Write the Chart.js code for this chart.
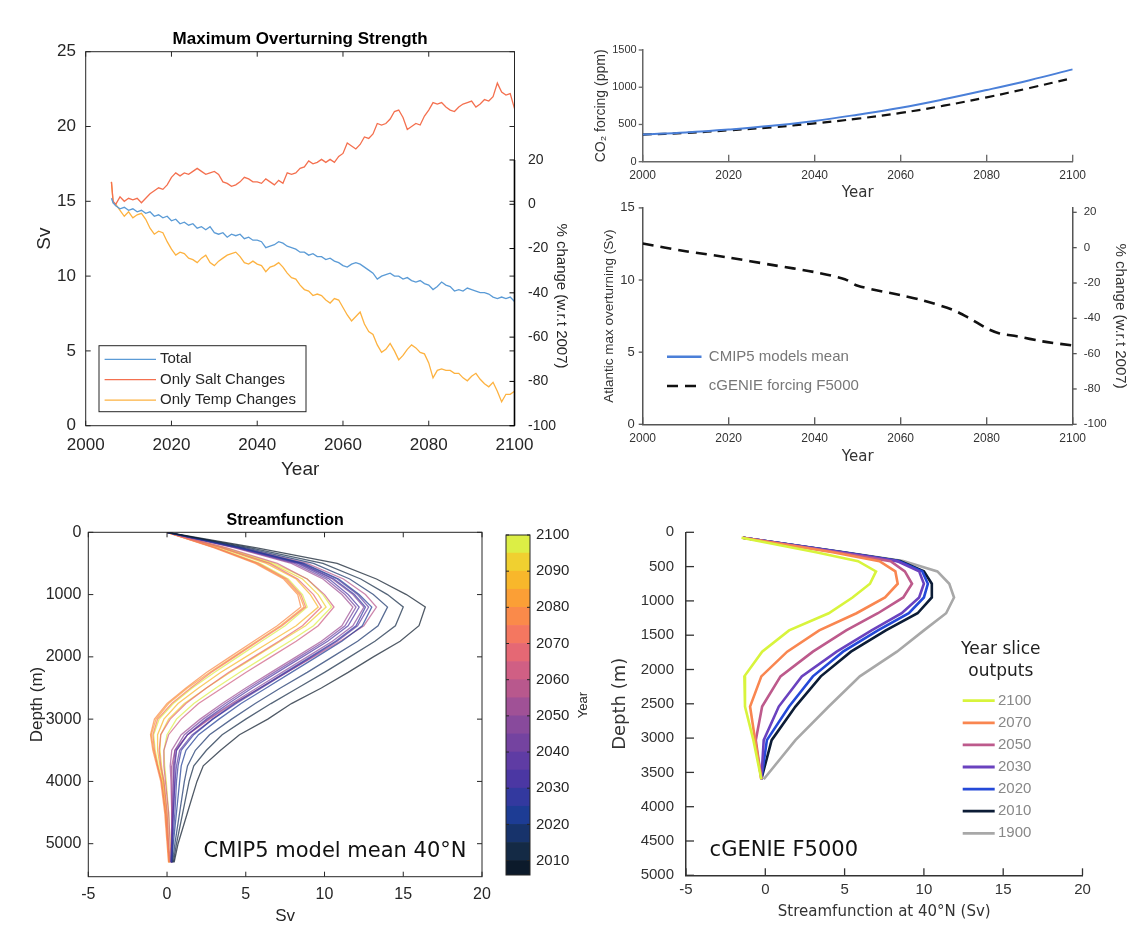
<!DOCTYPE html>
<html>
<head>
<meta charset="utf-8">
<script src="https://cdn.jsdelivr.net/npm/chart.js@4.4.1/dist/chart.umd.min.js"></script>
<style>
  body { margin: 0; background: #fff; width: 1129px; height: 931px; position: relative; overflow: hidden; }
  canvas { position: absolute; }
</style>
</head>
<body>
<canvas id="overturning" width="580" height="500" style="left:0;top:0"></canvas>
<canvas id="co2" width="549" height="180" style="left:580px;top:30px"></canvas>
<canvas id="atlantic" width="549" height="280" style="left:580px;top:190px"></canvas>
<canvas id="stream" width="500" height="431" style="left:0;top:500px"></canvas>
<canvas id="colorbar" width="110" height="370" style="left:490px;top:520px"></canvas>
<canvas id="genie" width="529" height="421" style="left:600px;top:510px"></canvas>
<script>
// ---- top left: maximum overturning strength (Sv)
const overturnYears = [
  2006, 2006.4, 2007, 2008, 2009, 2010, 2011, 2012, 2013, 2014,
  2015, 2016, 2017, 2018, 2019, 2020, 2021, 2022, 2023, 2024,
  2025, 2026, 2027, 2028, 2029, 2030, 2031, 2032, 2033, 2034,
  2035, 2036, 2037, 2038, 2039, 2040, 2041, 2042, 2043, 2044,
  2045, 2046, 2047, 2048, 2049, 2050, 2051, 2052, 2053, 2054,
  2055, 2056, 2057, 2058, 2059, 2060, 2061, 2062, 2063, 2064,
  2065, 2066, 2067, 2068, 2069, 2070, 2071, 2072, 2073, 2074,
  2075, 2076, 2077, 2078, 2079, 2080, 2081, 2082, 2083, 2084,
  2085, 2086, 2087, 2088, 2089, 2090, 2091, 2092, 2093, 2094,
  2095, 2096, 2097, 2098, 2099, 2100
];
const totalSv = [
  15.2, 14.9, 14.7, 14.5, 14.6, 14.4, 14.5, 14.3, 14.4, 14.2,
  14.3, 14.0, 14.1, 13.9, 14.0, 13.7, 13.8, 13.5, 13.6, 13.4,
  13.5, 13.2, 13.3, 13.1, 13.3, 12.9, 12.8, 12.9, 12.6, 12.8,
  12.7, 12.8, 12.5, 12.6, 12.4, 12.4, 12.3, 11.9, 12.0, 12.1,
  12.3, 12.2, 12.0, 11.9, 11.8, 11.6, 11.6, 11.4, 11.5, 11.3,
  11.3, 11.1, 11.2, 11.0, 10.9, 10.7, 10.6, 10.8, 10.9, 10.8,
  10.6, 10.4, 10.2, 9.8, 10.0, 10.1, 10.2, 10.0, 10.0, 9.8,
  9.9, 9.7, 9.6, 9.7, 9.5, 9.4, 9.1, 9.3, 9.6, 9.4,
  9.3, 9.0, 9.1, 9.0, 9.2, 9.1, 9.0, 8.9, 8.9, 8.8,
  8.6, 8.5, 8.6, 8.5, 8.6, 8.3
];
const saltSv = [
  16.3, 15.0, 14.8, 15.3, 15.0, 15.2, 15.1, 15.2, 14.9, 15.2,
  15.5, 15.7, 15.9, 15.8, 16.1, 16.6, 16.9, 16.7, 16.9, 16.8,
  17.0, 17.2, 17.0, 16.8, 16.9, 17.0, 16.8, 16.3, 16.2, 16.0,
  16.1, 16.3, 16.6, 16.5, 16.3, 16.3, 16.2, 16.5, 16.3, 16.1,
  16.4, 16.2, 16.9, 16.8, 16.9, 17.2, 17.3, 17.7, 17.5, 17.6,
  17.8, 17.6, 17.8, 17.6, 18.0, 18.2, 18.9, 18.7, 18.5, 18.8,
  19.3, 19.2, 19.5, 20.2, 20.1, 20.2, 20.5, 21.0, 21.1, 20.6,
  19.8, 20.0, 20.2, 20.1, 20.7, 21.1, 21.6, 21.5, 21.6, 21.3,
  21.1, 21.0, 21.3, 21.5, 21.6, 21.7, 21.3, 21.5, 21.8, 21.7,
  22.0, 22.9, 22.3, 22.1, 22.2, 21.2
];
const tempSv = [
  16.3, 14.9, 14.8, 14.4, 14.0, 14.3, 13.9, 14.1, 14.2, 13.8,
  13.2, 12.8, 13.0, 12.9, 12.3, 11.8, 11.4, 11.6, 11.5, 11.2,
  11.1, 10.9, 11.2, 11.4, 10.9, 10.7, 11.0, 11.2, 11.4, 11.5,
  11.6, 11.3, 10.9, 10.8, 11.0, 10.8, 10.7, 10.3, 10.6, 10.7,
  10.9, 10.6, 10.2, 9.9, 9.8, 9.4, 9.1, 9.0, 8.7, 8.8,
  8.7, 8.4, 8.2, 8.5, 8.4, 7.9, 7.4, 7.0, 7.3, 7.6,
  6.8, 6.3, 6.1, 5.4, 4.9, 5.1, 5.5, 5.0, 4.4, 4.7,
  5.1, 5.4, 5.2, 4.9, 4.8, 4.2, 3.2, 3.7, 3.8, 3.7,
  3.7, 3.5, 3.5, 3.2, 3.0, 3.3, 3.5, 3.1, 2.8, 2.6,
  2.9, 2.3, 1.6, 2.1, 2.1, 2.3
];

// ---- top right: CO2 forcing (ppm)
const co2Years = [2000, 2010, 2020, 2030, 2040, 2050, 2060, 2070, 2080, 2090, 2100];
const co2Cmip5 = [364, 392, 432, 482, 548, 632, 725, 838, 963, 1095, 1240];
const co2Genie = [364, 386, 421, 462, 515, 578, 655, 752, 864, 990, 1124];

// ---- middle right: Atlantic max overturning (Sv), cGENIE F5000
const amocYears = [2000, 2010, 2020, 2030, 2040, 2047, 2050, 2060, 2065, 2072, 2076, 2080, 2083, 2087, 2093, 2100];
const amocGenie = [12.53, 12.0, 11.56, 11.05, 10.55, 10.06, 9.6, 8.95, 8.6, 7.95, 7.35, 6.65, 6.3, 6.1, 5.75, 5.46];

// ---- bottom left: CMIP5 streamfunction profiles at 40N
const streamDepth = [0, 250, 500, 750, 1000, 1200, 1500, 1750, 2000, 2250, 2500, 2750, 3000, 3250, 3500, 3750, 4000, 4500, 5000, 5300];
const streamDepthTicks = [0, 1000, 2000, 3000, 4000, 5000];
const streamYears = [2006, 2010, 2015, 2020, 2025, 2030, 2035, 2040, 2045, 2050, 2055, 2060, 2065, 2070, 2075, 2080, 2085, 2090, 2095, 2100];
const streamSv = [
  [0, 5.7, 10.8, 13.3, 15.2, 16.4, 16.0, 14.8, 13.1, 11.5, 9.8, 7.9, 6.4, 4.6, 3.4, 2.3, 1.9, 1.3, 0.7, 0.45],
  [0, 5.3, 9.9, 12.3, 14.0, 15.0, 14.5, 13.2, 11.6, 10.0, 8.3, 6.6, 5.0, 3.5, 2.5, 1.7, 1.4, 1.0, 0.6, 0.4],
  [0, 5.0, 9.3, 11.6, 13.1, 14.0, 13.4, 12.1, 10.5, 8.9, 7.2, 5.6, 4.1, 2.7, 1.8, 1.3, 1.1, 0.8, 0.5, 0.35],
  [0, 4.7, 8.7, 10.9, 12.2, 13.0, 12.4, 11.1, 9.5, 7.9, 6.3, 4.7, 3.3, 2.0, 1.2, 0.9, 0.8, 0.6, 0.4, 0.3],
  [0, 4.6, 8.5, 10.6, 11.9, 12.6, 12.0, 10.7, 9.1, 7.5, 5.9, 4.3, 2.9, 1.7, 0.9, 0.7, 0.6, 0.5, 0.35, 0.3],
  [0, 4.5, 8.3, 10.3, 11.5, 12.2, 11.5, 10.2, 8.6, 7.0, 5.4, 3.9, 2.5, 1.3, 0.6, 0.5, 0.5, 0.4, 0.3, 0.25],
  [0, 4.7, 8.6, 10.8, 12.1, 12.8, 12.1, 10.8, 9.2, 7.6, 6.0, 4.4, 2.9, 1.6, 0.8, 0.6, 0.5, 0.4, 0.3, 0.25],
  [0, 4.4, 8.1, 10.1, 11.3, 12.0, 11.3, 10.0, 8.4, 6.8, 5.2, 3.7, 2.3, 1.1, 0.5, 0.4, 0.4, 0.35, 0.3, 0.25],
  [0, 4.6, 8.4, 10.5, 11.8, 12.5, 11.8, 10.5, 8.9, 7.3, 5.7, 4.1, 2.6, 1.3, 0.6, 0.45, 0.4, 0.35, 0.3, 0.3],
  [0, 4.3, 7.9, 9.9, 11.1, 11.8, 11.1, 9.8, 8.2, 6.6, 5.0, 3.5, 2.1, 0.9, 0.3, 0.2, 0.25, 0.3, 0.3, 0.3],
  [0, 4.8, 8.9, 11.2, 12.6, 13.3, 12.5, 11.0, 9.3, 7.6, 5.9, 4.2, 2.7, 1.3, 0.5, 0.3, 0.3, 0.3, 0.3, 0.3],
  [0, 3.8, 7.0, 8.9, 10.0, 10.6, 9.6, 8.2, 6.6, 5.0, 3.5, 2.0, 0.9, 0.1, -0.2, -0.2, -0.1, 0.1, 0.2, 0.3],
  [0, 3.5, 6.5, 8.3, 9.3, 9.8, 8.6, 7.1, 5.5, 3.9, 2.5, 1.2, 0.2, -0.4, -0.5, -0.4, -0.2, 0.0, 0.1, 0.2],
  [0, 3.1, 5.8, 7.6, 8.5, 8.8, 7.3, 5.8, 4.3, 2.8, 1.5, 0.3, -0.6, -0.9, -0.8, -0.6, -0.35, -0.1, 0.05, 0.15],
  [0, 3.0, 5.6, 7.4, 8.3, 8.5, 7.0, 5.5, 4.0, 2.5, 1.2, 0.0, -0.8, -1.05, -0.9, -0.65, -0.4, -0.15, 0.0, 0.1],
  [0, 3.1, 5.7, 7.5, 8.4, 8.7, 7.2, 5.7, 4.2, 2.7, 1.3, 0.1, -0.7, -1.0, -0.85, -0.6, -0.35, -0.1, 0.05, 0.1],
  [0, 3.4, 6.3, 8.2, 9.1, 9.6, 8.2, 6.6, 5.0, 3.4, 2.0, 0.7, -0.2, -0.6, -0.6, -0.45, -0.25, -0.05, 0.05, 0.15],
  [0, 3.6, 6.6, 8.6, 9.6, 10.1, 8.8, 7.2, 5.6, 4.0, 2.5, 1.1, 0.1, -0.4, -0.45, -0.35, -0.2, 0.0, 0.1, 0.2],
  [0, 3.2, 5.9, 7.7, 8.6, 8.9, 7.5, 6.0, 4.5, 3.0, 1.6, 0.4, -0.5, -0.85, -0.75, -0.55, -0.3, -0.1, 0.05, 0.15],
  [0, 3.7, 6.8, 8.9, 9.9, 10.45, 9.3, 7.8, 6.2, 4.6, 3.1, 1.7, 0.6, 0.0, -0.2, -0.15, -0.05, 0.1, 0.2, 0.3]
];
// colorbar bands (year edges) and their colours
const barEdges = [2006, 2010, 2015, 2020, 2025, 2030, 2035, 2040, 2045, 2050, 2055, 2060, 2065, 2070, 2075, 2080, 2085, 2090, 2095, 2100];
const barColors = ['#0c1a2b', '#142a45', '#17336b', '#1d3c94', '#33399f', '#4b37a3', '#5f3ca4', '#7443a0', '#884a9c', '#a05196',
                   '#b8588d', '#d05f84', '#e56874', '#f47760', '#fa8a4a', '#fb9f36', '#f8b72b', '#f0d030', '#dcee45'];

// ---- bottom right: cGENIE F5000 year slices
const genieDepth = [80, 290, 420, 570, 750, 950, 1180, 1430, 1740, 2100, 2540, 3030, 3600];
const genieYears = ['2100', '2070', '2050', '2030', '2020', '2010', '1900'];
const genieSv = [
  [-1.5, 3.2, 5.85, 6.98, 6.6, 5.5, 4.0, 1.5, -0.2, -1.32, -1.28, -0.75, -0.25],
  [-1.45, 4.25, 7.2, 8.2, 8.35, 7.55, 5.75, 3.4, 1.38, -0.25, -0.96, -0.64, -0.25],
  [-1.4, 4.5, 7.9, 8.8, 9.25, 8.7, 7.1, 5.1, 3.0, 0.96, -0.2, -0.6, -0.25],
  [-1.4, 4.8, 8.3, 9.7, 10.0, 9.7, 8.6, 6.7, 4.5, 2.3, 0.85, -0.1, -0.25],
  [-1.4, 4.85, 8.4, 9.9, 10.25, 10.0, 9.05, 7.1, 4.9, 3.0, 1.5, 0.1, -0.25],
  [-1.4, 4.9, 8.5, 10.0, 10.5, 10.5, 9.6, 7.6, 5.4, 3.5, 1.9, 0.4, -0.25],
  [-1.4, 5.0, 8.7, 10.85, 11.6, 11.9, 11.4, 10.0, 8.3, 5.96, 4.0, 1.9, -0.1]
];
const genieColors = ['#d8f43c', '#f98650', '#bd5a8c', '#6a42bf', '#2449d8', '#0c1c36', '#a8a8a8'];

// ---------------------------------------------------------------
const pairs = (xs, ys) => xs.map((x, i) => ({ x: x, y: ys[i] }));
const plain = v => String(v);
const fixW = w => s => { s.width = w; };
const fixH = h => s => { s.height = h; };

function rgba(hex, a) {
  const n = parseInt(hex.slice(1), 16);
  return `rgba(${n >> 16},${(n >> 8) & 255},${n & 255},${a})`;
}
function yearColor(year) {
  for (let i = 0; i < barColors.length; i++) {
    if (year < barEdges[i + 1]) return barColors[i];
  }
  return barColors[barColors.length - 1];
}

Chart.defaults.font.family = '"Liberation Sans", Arial, sans-serif';
Chart.defaults.color = '#262626';
Chart.defaults.animation = false;
Chart.defaults.responsive = false;
Chart.defaults.plugins.legend.display = false;
Chart.defaults.plugins.tooltip.enabled = false;
Chart.defaults.elements.point.radius = 0;

// tick marks drawn inside the frame (matlab style), optional box and axis segments
const frameTicks = {
  id: 'frameTicks',
  afterDatasetsDraw(chart, args, o) {
    const { ctx, chartArea: a } = chart;
    ctx.save();
    if (o.box) {
      ctx.strokeStyle = o.box;
      ctx.lineWidth = 1;
      ctx.strokeRect(a.left, a.top, a.right - a.left, a.bottom - a.top);
    }
    (o.marks || []).forEach(m => {
      const s = chart.scales[m.scale];
      ctx.strokeStyle = m.color;
      ctx.lineWidth = m.width || 1;
      s.ticks.forEach(t => {
        const p = s.getPixelForValue(t.value);
        ctx.beginPath();
        if (m.edge === 'bottom') { ctx.moveTo(p, a.bottom); ctx.lineTo(p, a.bottom - m.len); }
        if (m.edge === 'top') { ctx.moveTo(p, a.top); ctx.lineTo(p, a.top + m.len); }
        if (m.edge === 'left') { ctx.moveTo(a.left, p); ctx.lineTo(a.left + m.len, p); }
        if (m.edge === 'right') { ctx.moveTo(a.right, p); ctx.lineTo(a.right - m.len, p); }
        ctx.stroke();
      });
    });
    (o.spans || []).forEach(sp => {
      const s = chart.scales[sp.scale];
      ctx.strokeStyle = sp.color;
      ctx.lineWidth = sp.width;
      ctx.beginPath();
      ctx.moveTo(a.right, s.getPixelForValue(sp.from));
      ctx.lineTo(a.right, s.getPixelForValue(sp.to));
      ctx.stroke();
    });
    ctx.restore();
  }
};

// legend drawn inside the plot from the datasets
const lineLegend = {
  id: 'lineLegend',
  afterDraw(chart, args, o) {
    if (o.x === undefined) return;
    const ctx = chart.ctx;
    ctx.save();
    if (o.box) {
      ctx.fillStyle = '#fff';
      ctx.fillRect(o.box.x, o.box.y, o.box.w, o.box.h);
      ctx.strokeStyle = o.box.color;
      ctx.lineWidth = 1;
      ctx.strokeRect(o.box.x, o.box.y, o.box.w, o.box.h);
    }
    ctx.font = o.font;
    ctx.textBaseline = 'middle';
    ctx.textAlign = 'left';
    chart.data.datasets.forEach((ds, i) => {
      const y = o.y + i * o.gap;
      ctx.strokeStyle = ds.legendColor || ds.borderColor;
      ctx.lineWidth = o.lineWidth || ds.borderWidth;
      ctx.setLineDash(ds.borderDash || []);
      ctx.beginPath();
      ctx.moveTo(o.x, y);
      ctx.lineTo(o.x + o.len, y);
      ctx.stroke();
      ctx.setLineDash([]);
      ctx.fillStyle = o.color;
      ctx.fillText(ds.label, o.x + o.len + o.pad, y);
    });
    ctx.restore();
  }
};

// free text (annotations, side labels)
const notes = {
  id: 'notes',
  afterDraw(chart, args, o) {
    const ctx = chart.ctx;
    (o.items || []).forEach(it => {
      ctx.save();
      ctx.translate(it.x, it.y);
      ctx.rotate((it.rot || 0) * Math.PI / 180);
      ctx.font = it.font;
      ctx.fillStyle = it.color;
      ctx.textAlign = it.align || 'center';
      ctx.textBaseline = 'middle';
      ctx.fillText(it.text, 0, 0);
      ctx.restore();
    });
  }
};

// ---- Maximum overturning strength
new Chart(document.getElementById('overturning'), {
  type: 'scatter',
  data: {
    datasets: [
      { label: 'Total', data: pairs(overturnYears, totalSv), borderColor: '#5b9bd6' },
      { label: 'Only Salt Changes', data: pairs(overturnYears, saltSv), borderColor: '#f4704f' },
      { label: 'Only Temp Changes', data: pairs(overturnYears, tempSv), borderColor: '#fdb240' }
    ].map(d => Object.assign({ showLine: true, borderWidth: 1.3, yAxisID: 'y' }, d))
  },
  options: {
    layout: { padding: 0 },
    plugins: {
      title: {
        display: true, text: 'Maximum Overturning Strength', color: '#000', fullSize: false,
        font: { size: 17, weight: 'bold' }, padding: { top: 28.8, bottom: 2.5 }
      },
      frameTicks: {
        box: '#262626',
        marks: [
          { scale: 'x', edge: 'bottom', len: 5, color: '#262626' },
          { scale: 'x', edge: 'top', len: 5, color: '#262626' },
          { scale: 'y', edge: 'left', len: 5, color: '#262626' },
          { scale: 'y', edge: 'right', len: 5, color: '#262626' },
          { scale: 'y2', edge: 'right', len: 5, color: '#000' }
        ],
        spans: [{ scale: 'y2', from: 20, to: -100, color: '#000', width: 1.6 }]
      },
      lineLegend: {
        box: { x: 99, y: 345.7, w: 207, h: 66, color: '#262626' },
        x: 104.6, y: 359.3, gap: 20.4, len: 51.4, pad: 4,
        font: '15px "Liberation Sans"', color: '#262626'
      },
      notes: {
        items: [{ text: '% change (w.r.t 2007)', x: 561, y: 296, rot: 90, font: '15px "Liberation Sans"', color: '#262626' }]
      }
    },
    scales: {
      x: {
        type: 'linear', position: 'bottom', min: 2000, max: 2100,
        grid: { display: false, drawTicks: false }, border: { display: false },
        ticks: { stepSize: 20, callback: plain, font: { size: 17 }, padding: 9.1 },
        title: { display: true, text: 'Year', font: { size: 19 }, padding: { top: 0, bottom: 18.6 } },
        afterFit: fixH(74.3)
      },
      y: {
        type: 'linear', position: 'left', min: 0, max: 25,
        grid: { display: false, drawTicks: false }, border: { display: false },
        ticks: { stepSize: 5, callback: plain, font: { size: 17 }, padding: 9.7 },
        title: { display: true, text: 'Sv', font: { size: 19 }, padding: { top: 33.2, bottom: 0 } },
        afterFit: fixW(85.7)
      },
      y2: {
        type: 'linear', position: 'right', min: -100, max: 68.9,
        grid: { display: false, drawTicks: false }, border: { display: false },
        ticks: { stepSize: 20, callback: plain, font: { size: 14 }, padding: 13.5 },
        afterBuildTicks: s => { s.ticks = s.ticks.filter(t => t.value <= 20); },
        afterFit: fixW(65.5)
      }
    }
  },
  plugins: [frameTicks, lineLegend, notes]
});

// ---- CO2 forcing
new Chart(document.getElementById('co2'), {
  type: 'scatter',
  data: {
    datasets: [
      { label: 'CMIP5 models mean', data: pairs(co2Years, co2Cmip5), borderColor: '#4a7fd8', borderWidth: 2 },
      { label: 'cGENIE forcing F5000', data: pairs(co2Years, co2Genie), borderColor: '#111', borderWidth: 2.2, borderDash: [9, 6] }
    ].map(d => Object.assign({ showLine: true, tension: 0.4 }, d))
  },
  options: {
    layout: { padding: { top: 20, right: 56.3, left: 0, bottom: 0 } },
    plugins: {
      frameTicks: {
        marks: [
          { scale: 'x', edge: 'bottom', len: 7, color: '#666', width: 1.3 },
          { scale: 'y', edge: 'left', len: -4, color: '#666', width: 1.3 }
        ]
      }
    },
    scales: {
      x: {
        type: 'linear', min: 2000, max: 2100,
        grid: { display: false, drawTicks: false }, border: { color: '#666', width: 1.5 },
        ticks: { stepSize: 20, callback: plain, font: { size: 12 }, color: '#333', padding: 6.8 },
        title: { display: true, text: 'Year', font: { size: 15, family: '"DejaVu Sans"' }, color: '#333', padding: { top: 0, bottom: 7.7 } },
        afterFit: fixH(48.3)
      },
      y: {
        type: 'linear', min: 0, max: 1500,
        grid: { display: false, drawTicks: false }, border: { color: '#666', width: 1.5 },
        ticks: { stepSize: 500, callback: plain, font: { size: 11 }, color: '#333', padding: 6 },
        title: { display: true, text: 'CO\u2082 forcing (ppm)', font: { size: 14 }, color: '#333', padding: { top: 13.1, bottom: 0 } },
        afterFit: fixW(62.7)
      }
    }
  },
  plugins: [frameTicks]
});

// ---- Atlantic max overturning
new Chart(document.getElementById('atlantic'), {
  type: 'scatter',
  data: {
    datasets: [
      { label: 'CMIP5 models mean', data: [], borderColor: '#4a7fd8', borderWidth: 2 },
      { label: 'cGENIE forcing F5000', data: pairs(amocYears, amocGenie), borderColor: '#111', borderWidth: 2.6, borderDash: [11, 7] }
    ].map(d => Object.assign({ showLine: true, tension: 0.3, yAxisID: 'y' }, d))
  },
  options: {
    layout: { padding: { top: 11.7, right: 0, left: 0, bottom: 0 } },
    plugins: {
      frameTicks: {
        marks: [
          { scale: 'x', edge: 'bottom', len: 7, color: '#555', width: 1.3 },
          { scale: 'y', edge: 'left', len: -4, color: '#555', width: 1.3 },
          { scale: 'y2', edge: 'right', len: -4, color: '#555', width: 1.3 }
        ]
      },
      lineLegend: {
        x: 87, y: 166.7, gap: 29.3, len: 34.5, pad: 7.3, lineWidth: 2.6,
        font: '15px "Liberation Sans"', color: '#777'
      }
    },
    scales: {
      x: {
        type: 'linear', min: 2000, max: 2100,
        grid: { display: false, drawTicks: false }, border: { color: '#555', width: 1.5 },
        ticks: { stepSize: 20, callback: plain, font: { size: 12 }, color: '#333', padding: 7.1 },
        title: { display: true, text: 'Year', font: { size: 15, family: '"DejaVu Sans"' }, color: '#333', padding: { top: 0, bottom: 4.3 } },
        afterFit: fixH(45.7)
      },
      y: {
        type: 'linear', position: 'left', min: 0, max: 15,
        grid: { display: false, drawTicks: false }, border: { color: '#555', width: 1.5 },
        ticks: { stepSize: 5, callback: plain, font: { size: 13 }, color: '#333', padding: 8 },
        title: { display: true, text: 'Atlantic max overturning (Sv)', font: { size: 13.5 }, color: '#333', padding: { top: 20.9, bottom: 0 } },
        afterFit: fixW(62.7)
      },
      y2: {
        type: 'linear', position: 'right', min: -100, max: 22.5,
        grid: { display: false, drawTicks: false }, border: { color: '#555', width: 1.5 },
        ticks: { stepSize: 20, includeBounds: false, callback: plain, font: { size: 11.5 }, color: '#333', padding: 11 },
        title: { display: true, text: '% change (w.r.t 2007)', font: { size: 15 }, color: '#333', padding: { top: 0, bottom: 0 } },
        afterFit: fixW(56.3)
      }
    }
  },
  plugins: [frameTicks, lineLegend]
});

// ---- CMIP5 streamfunction
new Chart(document.getElementById('stream'), {
  type: 'scatter',
  data: {
    datasets: streamSv.map((vals, i) => ({
      label: String(streamYears[i]),
      data: pairs(vals, streamDepth),
      showLine: true,
      borderWidth: 1.3,
      borderColor: rgba(yearColor(streamYears[i]), 0.72)
    }))
  },
  options: {
    layout: { padding: { top: 0, right: 18, left: 0, bottom: 0 } },
    plugins: {
      title: {
        display: true, text: 'Streamfunction', color: '#000', fullSize: false,
        font: { size: 16, weight: 'bold' }, padding: { top: 11.1, bottom: 2.0 }
      },
      frameTicks: {
        box: '#262626',
        marks: [
          { scale: 'x', edge: 'bottom', len: 5, color: '#262626' },
          { scale: 'x', edge: 'top', len: 5, color: '#262626' },
          { scale: 'y', edge: 'left', len: 5, color: '#262626' },
          { scale: 'y', edge: 'right', len: 5, color: '#262626' }
        ]
      },
      notes: {
        items: [{ text: 'CMIP5 model mean 40\u00b0N', x: 203.6, y: 351.7, align: 'left', font: '21px "DejaVu Sans"', color: '#111' }]
      }
    },
    scales: {
      x: {
        type: 'linear', min: -5, max: 20,
        grid: { display: false, drawTicks: false }, border: { display: false },
        ticks: { stepSize: 5, callback: plain, font: { size: 16 }, padding: 8.7 },
        title: { display: true, text: 'Sv', font: { size: 17 }, padding: { top: 0, bottom: 4.1 } },
        afterFit: fixH(54.3)
      },
      y: {
        type: 'linear', reverse: true, min: 0, max: 5530,
        grid: { display: false, drawTicks: false }, border: { display: false },
        ticks: { callback: plain, font: { size: 16 }, padding: 7 },
        afterBuildTicks: s => { s.ticks = streamDepthTicks.map(v => ({ value: v })); },
        title: { display: true, text: 'Depth (m)', font: { size: 17 }, padding: { top: 27.4, bottom: 0 } },
        afterFit: fixW(88.3)
      }
    }
  },
  plugins: [frameTicks, notes]
});

// ---- colour bar for the streamfunction years
new Chart(document.getElementById('colorbar'), {
  type: 'bar',
  data: {
    labels: ['Year'],
    datasets: barColors.map((c, i) => ({
      label: barEdges[i] + '-' + barEdges[i + 1],
      data: [[barEdges[i], barEdges[i + 1]]],
      backgroundColor: c,
      borderWidth: 0,
      grouped: false,
      barPercentage: 1,
      categoryPercentage: 1
    }))
  },
  options: {
    layout: { padding: { top: 12.3, right: 0, left: 16, bottom: 13.3 } },
    plugins: {
      frameTicks: {
        box: '#262626',
        marks: [
          { scale: 'y', edge: 'right', len: 3, color: '#262626' },
          { scale: 'y', edge: 'left', len: 3, color: '#262626' }
        ]
      },
      notes: {
        items: [{ text: 'Year', x: 93, y: 185, rot: -90, font: '13px "Liberation Sans"', color: '#262626' }]
      }
    },
    scales: {
      x: { display: false },
      y: {
        position: 'right', min: 2006, max: 2100,
        grid: { display: false, drawTicks: false }, border: { display: false },
        ticks: { stepSize: 10, includeBounds: false, callback: plain, font: { size: 15 }, padding: 6 },
        afterFit: fixW(70)
      }
    }
  },
  plugins: [frameTicks, notes]
});

// ---- cGENIE F5000 year slices
new Chart(document.getElementById('genie'), {
  type: 'scatter',
  data: {
    datasets: genieSv.map((vals, i) => ({
      label: genieYears[i],
      data: pairs(vals, genieDepth),
      showLine: true,
      borderWidth: 2.6,
      borderColor: genieColors[i]
    }))
  },
  options: {
    layout: { padding: { top: 22.3, right: 46.5, left: 0, bottom: 0 } },
    plugins: {
      frameTicks: {
        marks: [
          { scale: 'x', edge: 'bottom', len: 7, color: '#333', width: 1.3 },
          { scale: 'y', edge: 'left', len: 8, color: '#333', width: 1.3 }
        ]
      },
      lineLegend: {
        x: 362.7, y: 190.7, gap: 22.1, len: 32, pad: 3.3, lineWidth: 2.8,
        font: '15px "Liberation Sans"', color: '#888'
      },
      notes: {
        items: [
          { text: 'cGENIE F5000', x: 109.6, y: 340.7, align: 'left', font: '21px "DejaVu Sans"', color: '#111' },
          { text: 'Year slice', x: 400.8, y: 139.3, font: '17px "DejaVu Sans"', color: '#222' },
          { text: 'outputs', x: 400.8, y: 161.7, font: '17px "DejaVu Sans"', color: '#222' }
        ]
      }
    },
    scales: {
      x: {
        type: 'linear', min: -5, max: 20,
        grid: { display: false, drawTicks: false }, border: { color: '#333', width: 1.5 },
        ticks: { stepSize: 5, callback: plain, font: { size: 15 }, color: '#333', padding: 5.7 },
        title: { display: true, text: 'Streamfunction at 40\u00b0N (Sv)', font: { size: 15, family: '"DejaVu Sans"' }, color: '#333', padding: { top: 0, bottom: 10.3 } },
        afterFit: fixH(55.7)
      },
      y: {
        type: 'linear', reverse: true, min: 0, max: 5000,
        grid: { display: false, drawTicks: false }, border: { color: '#333', width: 1.5 },
        ticks: { stepSize: 500, callback: plain, font: { size: 15 }, color: '#333', padding: 12 },
        title: { display: true, text: 'Depth (m)', font: { size: 18, family: '"DejaVu Sans"' }, color: '#333', padding: { top: 9.2, bottom: 0 } },
        afterFit: fixW(86)
      }
    }
  },
  plugins: [frameTicks, lineLegend, notes]
});
</script>
</body>
</html>
